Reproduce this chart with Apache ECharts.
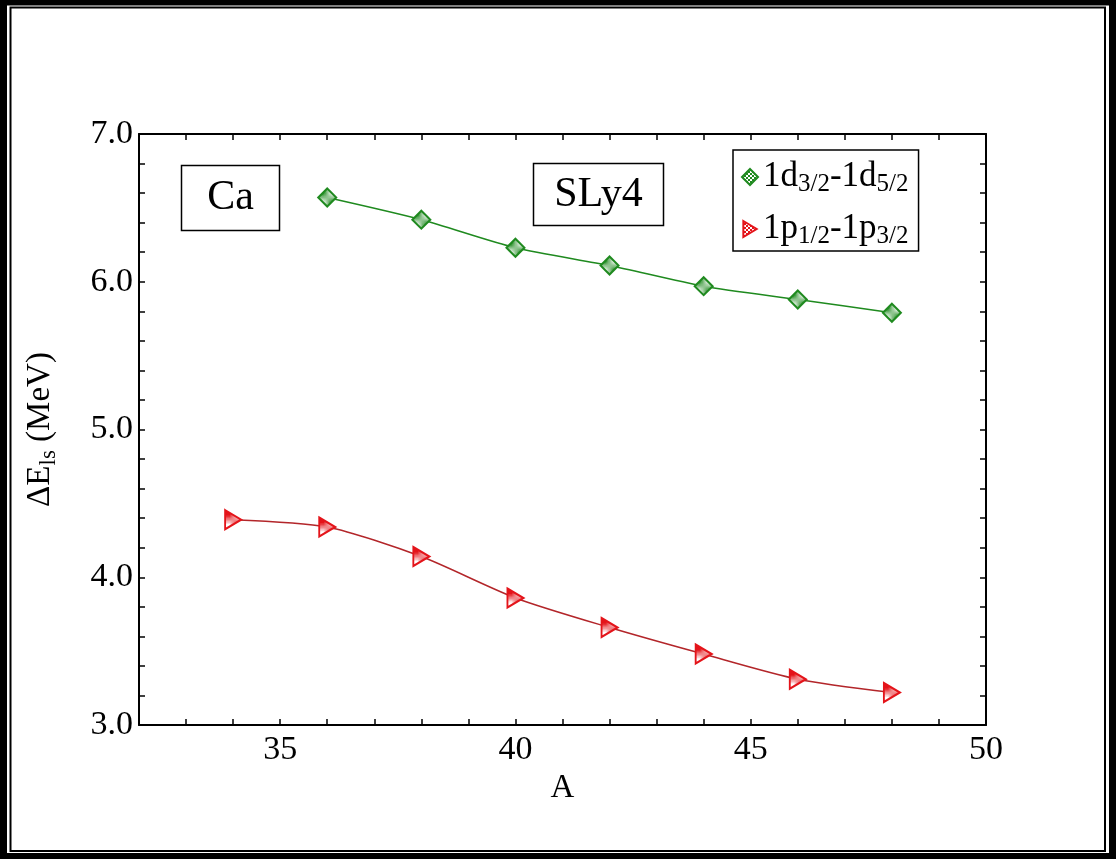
<!DOCTYPE html>
<html>
<head>
<meta charset="utf-8">
<title>Ca SLy4 spin-orbit splitting</title>
<script src="https://cdn.jsdelivr.net/npm/echarts@6/dist/echarts.min.js"></script>
<style>
  html, body { margin: 0; padding: 0; background: #fff; }
  #main { width: 1117px; height: 859px; }
</style>
</head>
<body>
<div id="main"></div>
<script>
// 数据
var massD = [36, 38, 40, 42, 44, 46, 48];
var splitD = [6.57, 6.42, 6.23, 6.11, 5.97, 5.88, 5.79];
var massP = [34, 36, 38, 40, 42, 44, 46, 48];
var splitP = [4.39, 4.34, 4.14, 3.86, 3.66, 3.48, 3.31, 3.22];
var xLabels = [35, 40, 45, 50];
var yLabels = [3.0, 4.0, 5.0, 6.0, 7.0];

(function() {
  var serif = '"Liberation Serif", "DejaVu Serif", serif';
  var green = '#1f8a1f';
  var red = '#e4141a';
  var triPath = 'path://M0,0 L10,6 L0,12 Z';

  // 棋盘格填充
  function checker(color) {
    var c = document.createElement('canvas');
    c.width = 4; c.height = 4;
    var ctx = c.getContext('2d');
    ctx.fillStyle = '#fff';
    ctx.fillRect(0, 0, 4, 4);
    ctx.fillStyle = color;
    ctx.fillRect(0, 0, 2, 2);
    ctx.fillRect(2, 2, 2, 2);
    return { image: c, repeat: 'repeat' };
  }

  function pairs(xs, ys) {
    return xs.map(function(x, i) { return [x, ys[i]]; });
  }

  var tickStyle = { show: true, inside: true, length: 6, lineStyle: { color: '#000', width: 1.5 } };
  var lineStyle = { show: true, lineStyle: { color: '#000', width: 2 } };

  var myChart = echarts.init(document.getElementById('main'));
  var option = {
    backgroundColor: '#fff',
    animation: false,
    grid: { left: 139, right: 131, top: 134, bottom: 134 },
    legend: {
      left: 733,
      top: 150,
      orient: 'vertical',
      borderColor: '#000',
      borderWidth: 1.5,
      padding: [7, 10, 2, 8],
      itemGap: 12,
      itemWidth: 16,
      itemHeight: 16,
      data: [
        { name: 'd', icon: 'diamond' },
        { name: 'p', icon: triPath }
      ],
      formatter: function(name) {
        if (name === 'd') return '{m|1d}{s|3/2}{m|-1d}{s|5/2}';
        return '{m|1p}{s|1/2}{m|-1p}{s|3/2}';
      },
      textStyle: {
        color: '#000',
        fontFamily: serif,
        rich: {
          m: { fontSize: 35, fontFamily: serif, color: '#000', lineHeight: 34 },
          s: { fontSize: 25, fontFamily: serif, color: '#000', padding: [15, 0, 0, 0], lineHeight: 20 }
        }
      }
    },
    xAxis: [
      {
        type: 'value',
        min: 32,
        max: 50,
        interval: 1,
        name: 'A',
        nameLocation: 'middle',
        nameGap: 38,
        nameTextStyle: { fontFamily: serif, fontSize: 33, color: '#000' },
        axisLine: lineStyle,
        axisTick: tickStyle,
        splitLine: { show: false },
        axisLabel: {
          margin: 8,
          fontFamily: serif,
          fontSize: 34,
          color: '#000',
          formatter: function(v) { return xLabels.indexOf(v) >= 0 ? String(v) : ''; }
        }
      },
      {
        type: 'value',
        position: 'top',
        min: 32,
        max: 50,
        interval: 1,
        axisLine: lineStyle,
        axisTick: tickStyle,
        axisLabel: { show: false },
        splitLine: { show: false }
      }
    ],
    yAxis: [
      {
        type: 'value',
        min: 3,
        max: 7,
        interval: 0.2,
        name: '{m|ΔE}{s|ls}{m| (MeV)}',
        nameLocation: 'middle',
        nameGap: 80,
        nameTextStyle: {
          rich: {
            m: { fontSize: 33, fontFamily: serif, color: '#000', lineHeight: 38 },
            s: { fontSize: 23, fontFamily: serif, color: '#000', padding: [18, 0, 0, 0], lineHeight: 22 }
          }
        },
        axisLine: lineStyle,
        axisTick: tickStyle,
        splitLine: { show: false },
        axisLabel: {
          margin: 6,
          fontFamily: serif,
          fontSize: 34,
          color: '#000',
          formatter: function(v) {
            for (var i = 0; i < yLabels.length; i++) {
              if (Math.abs(v - yLabels[i]) < 1e-6) return yLabels[i].toFixed(1);
            }
            return '';
          }
        }
      },
      {
        type: 'value',
        position: 'right',
        min: 3,
        max: 7,
        interval: 0.2,
        axisLine: lineStyle,
        axisTick: tickStyle,
        axisLabel: { show: false },
        splitLine: { show: false }
      }
    ],
    series: [
      {
        name: 'd',
        type: 'line',
        smooth: 0.25,
        data: pairs(massD, splitD),
        symbol: 'diamond',
        symbolSize: 18,
        lineStyle: { color: green, width: 1.5 },
        itemStyle: { color: checker(green), borderColor: green, borderWidth: 2 }
      },
      {
        name: 'p',
        type: 'line',
        smooth: 0.25,
        data: pairs(massP, splitP),
        symbol: triPath,
        symbolSize: [16, 19],
        lineStyle: { color: '#b3262a', width: 1.5 },
        itemStyle: { color: checker(red), borderColor: red, borderWidth: 2 }
      }
    ],
    graphic: [
      // 外框
      { type: 'rect', shape: { x: 3.5, y: 2, width: 1109, height: 854.5 }, style: { fill: null, stroke: '#000', lineWidth: 7 }, silent: true },
      { type: 'rect', shape: { x: 10.5, y: 7.5, width: 1094.5, height: 843.5 }, style: { fill: null, stroke: '#000', lineWidth: 2 }, silent: true },
      // Ca 标签
      { type: 'rect', shape: { x: 181.5, y: 165.5, width: 98, height: 65 }, style: { fill: '#fff', stroke: '#000', lineWidth: 1.5 }, silent: true },
      { type: 'text', x: 230.5, y: 198, style: { text: 'Ca', font: '42px ' + serif, fill: '#000', align: 'center', verticalAlign: 'middle' }, silent: true },
      // SLy4 标签
      { type: 'rect', shape: { x: 533.5, y: 163.5, width: 130, height: 62 }, style: { fill: '#fff', stroke: '#000', lineWidth: 1.5 }, silent: true },
      { type: 'text', x: 598.5, y: 195, style: { text: 'SLy4', font: '42px ' + serif, fill: '#000', align: 'center', verticalAlign: 'middle' }, silent: true }
    ]
  };
  myChart.setOption(option);
  window.addEventListener('resize', function() {
    myChart.resize();
  });
})();
</script>
</body>
</html>
